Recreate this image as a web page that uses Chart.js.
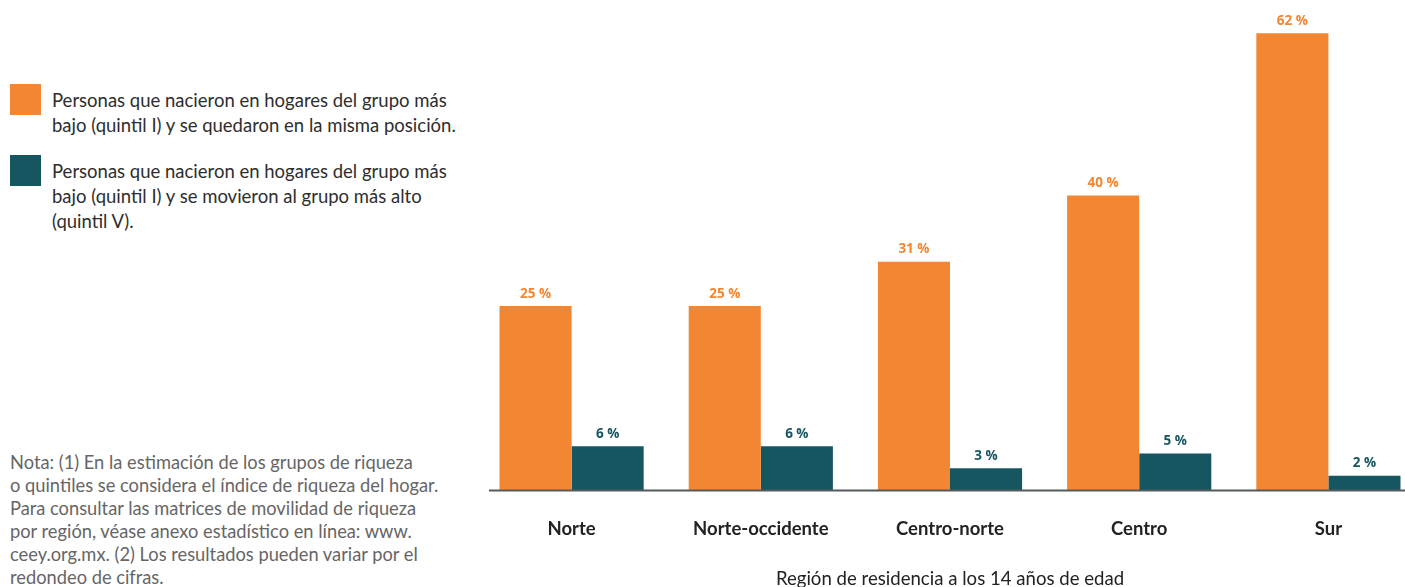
<!DOCTYPE html>
<html lang="es">
<head>
<meta charset="utf-8">
<script src="https://cdn.jsdelivr.net/npm/chart.js@4.4.1/dist/chart.umd.min.js"></script>
<style>
  html, body { margin: 0; padding: 0; background: #fff; width: 1405px; height: 587px; overflow: hidden; }
  body { position: relative; font-family: Lato, "Noto Sans", sans-serif; }
  .legend-item { position: absolute; left: 10px; display: flex; }
  .swatch { width: 31px; height: 31px; flex: none; }
  .legend-text { position: absolute; left: 42px; top: 4px; width: 440px; font-size: 18.5px; line-height: 24.8px; color: #2e2e2e; }
  #nota { position: absolute; left: 10px; top: 451px; width: 470px; font-size: 18.3px; line-height: 23px; color: #666; }
  #wrap { position: absolute; left: 477px; top: 0; width: 946px; height: 600px; }
</style>
</head>
<body>
<div class="legend-item" style="top:84px"><div class="swatch" style="background:#F28633"></div><div class="legend-text" id="lg0"></div></div>
<div class="legend-item" style="top:155px"><div class="swatch" style="background:#165660"></div><div class="legend-text" id="lg1"></div></div>
<div id="nota">Nota: (1) En la estimación de los grupos de riqueza<br>o quintiles se considera el índice de riqueza del hogar.<br>Para consultar las matrices de movilidad de riqueza<br>por región, véase anexo estadístico en línea: www.<br>ceey.org.mx. (2) Los resultados pueden variar por el<br>redondeo de cifras.</div>
<div id="wrap"><canvas id="c"></canvas></div>
<script>
// Regiones de residencia a los 14 años
const regiones = ['Norte', 'Norte-occidente', 'Centro-norte', 'Centro', 'Sur'];
// % que nacieron en el quintil I y permanecieron ahí
const permanecieron = [25, 25, 31, 40, 62];
// % que nacieron en el quintil I y subieron al quintil V
const ascendieron = [6, 6, 3, 5, 2];
const seriesNombres = [
  'Personas que nacieron en hogares del grupo más bajo (quintil I) y se quedaron en la misma posición.',
  'Personas que nacieron en hogares del grupo más bajo (quintil I) y se movieron al grupo más alto (quintil V).'
];
const tituloEjeX = 'Región de residencia a los 14 años de edad';

const NARANJA = '#F28633';
const VERDE = '#165660';

document.getElementById('lg0').innerHTML = 'Personas que nacieron en hogares del grupo más<br>bajo (quintil I) y se quedaron en la misma posición.';
document.getElementById('lg1').innerHTML = 'Personas que nacieron en hogares del grupo más<br>bajo (quintil I) y se movieron al grupo más alto<br>(quintil V).';

// Etiquetas de valor encima de cada barra
const valueLabels = {
  id: 'valueLabels',
  afterDatasetsDraw(chart) {
    const ctx = chart.ctx;
    ctx.save();
    ctx.font = '700 13.5px "Open Sans", Lato, sans-serif';
    ctx.textAlign = 'center';
    ctx.textBaseline = 'alphabetic';
    chart.data.datasets.forEach((ds, i) => {
      const meta = chart.getDatasetMeta(i);
      ctx.fillStyle = ds.backgroundColor;
      meta.data.forEach((bar, j) => {
        ctx.fillText(ds.data[j] + ' %', bar.x, bar.y - 8.5);
      });
    });
    ctx.restore();
  }
};

// Línea base del eje horizontal
const baseLine = {
  id: 'baseLine',
  afterDatasetsDraw(chart) {
    const ctx = chart.ctx;
    const y = chart.scales.y.getPixelForValue(0);
    ctx.save();
    ctx.strokeStyle = '#555a5c';
    ctx.lineWidth = 2;
    ctx.beginPath();
    ctx.moveTo(12, y);
    ctx.lineTo(928, y);
    ctx.stroke();
    ctx.restore();
  }
};

new Chart(document.getElementById('c'), {
  type: 'bar',
  data: {
    labels: regiones,
    datasets: [
      { label: seriesNombres[0], data: permanecieron, backgroundColor: NARANJA },
      { label: seriesNombres[1], data: ascendieron, backgroundColor: VERDE }
    ]
  },
  options: {
    responsive: true,
    maintainAspectRatio: false,
    animation: false,
    events: [],
    layout: { padding: 0 },
    categoryPercentage: 0.762,
    barPercentage: 1.0,
    plugins: { legend: { display: false }, tooltip: { enabled: false } },
    scales: {
      x: {
        grid: { display: false, drawTicks: false },
        border: { display: false },
        ticks: { padding: 27, color: '#222', font: { family: 'Lato', size: 18.5, weight: '700' } },
        title: {
          display: true,
          text: tituloEjeX,
          color: '#222',
          font: { family: 'Lato', size: 18.6, weight: '400' },
          padding: { top: 1, bottom: 10 }
        }
      },
      y: {
        display: false,
        min: 0,
        max: 66.5
      }
    }
  },
  plugins: [valueLabels, baseLine]
});
</script>
</body>
</html>
